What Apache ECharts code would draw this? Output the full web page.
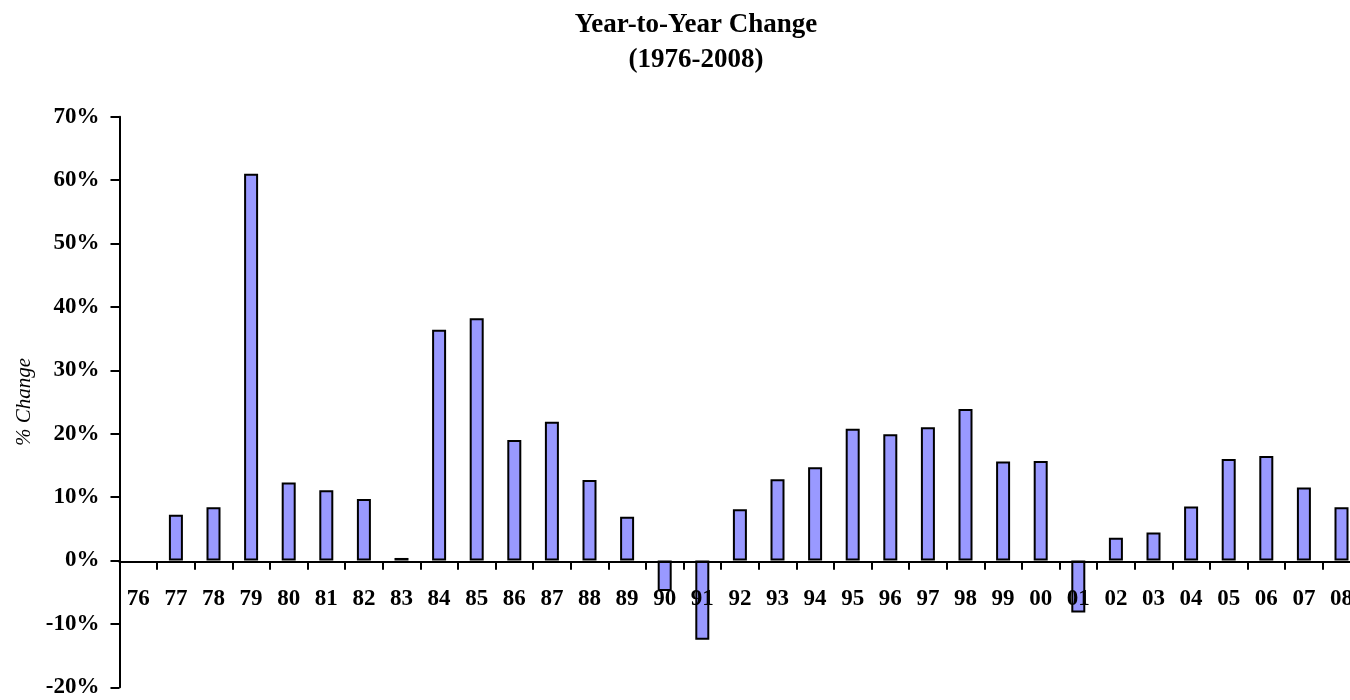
<!DOCTYPE html>
<html>
<head>
<meta charset="utf-8">
<title>Year-to-Year Change</title>
<script src="https://cdn.jsdelivr.net/npm/echarts@6/dist/echarts.min.js"></script>
<style>
  html, body { margin: 0; padding: 0; background: #fff; }
  #chart { width: 1350px; height: 700px; }
</style>
</head>
<body>
<div id="chart"></div>
<script>
// years shown on the category axis (1976-2008)
var years = ['76', '77', '78', '79', '80', '81', '82', '83', '84', '85', '86',
             '87', '88', '89', '90', '91', '92', '93', '94', '95', '96', '97',
             '98', '99', '00', '01', '02', '03', '04', '05', '06', '07', '08'];

// % change from previous year (no bar for 76)
var pctChange = [null, 7.2, 8.4, 61.0, 12.3, 11.1, 9.7, 0.4, 36.4, 38.2, 19.0,
                 21.9, 12.7, 6.9, -4.8, -12.5, 8.1, 12.8, 14.7, 20.8, 19.9, 21.0,
                 23.9, 15.6, 15.7, -8.2, 3.6, 4.4, 8.5, 16.0, 16.5, 11.5, 8.4];

var serif = 'Liberation Serif';

var option = {
    backgroundColor: '#fff',
    animation: false,
    title: {
        text: 'Year-to-Year Change\n(1976-2008)',
        left: 691,
        textAlign: 'center',
        top: 3,
        textStyle: {
            fontFamily: serif,
            fontWeight: 'bold',
            fontSize: 27,
            lineHeight: 35,
            color: '#000'
        }
    },
    grid: {
        left: 119.5,
        right: -10.3,
        top: 116.7,
        bottom: 12.7,
        outerBoundsMode: 'none'
    },
    xAxis: {
        type: 'category',
        data: years,
        z: 3,
        // category axis sits on the 0% line (70..-20 range, 0 is 7/9 down)
        offset: -125.6,
        axisLine: {
            onZero: false,
            lineStyle: { color: '#000', width: 2 }
        },
        axisTick: {
            show: true,
            length: 8,
            lineStyle: { color: '#000', width: 2 }
        },
        axisLabel: {
            interval: 0,
            margin: 26,
            fontFamily: serif,
            fontWeight: 'bold',
            fontSize: 23,
            color: '#000'
        }
    },
    yAxis: {
        type: 'value',
        min: -20,
        max: 70,
        interval: 10,
        name: '% Change',
        nameLocation: 'middle',
        nameGap: 85,
        nameTextStyle: {
            fontFamily: serif,
            fontStyle: 'italic',
            fontSize: 21,
            color: '#000'
        },
        splitLine: { show: false },
        axisLine: {
            show: true,
            lineStyle: { color: '#000', width: 2 }
        },
        axisTick: {
            show: true,
            length: 9,
            lineStyle: { color: '#000', width: 2 }
        },
        axisLabel: {
            margin: 20,
            formatter: '{value}%',
            fontFamily: serif,
            fontWeight: 'bold',
            fontSize: 23,
            color: '#000'
        }
    },
    series: [{
        name: '% Change',
        type: 'bar',
        data: pctChange,
        barWidth: 14,
        itemStyle: {
            color: '#9999FF',
            borderColor: '#000',
            borderWidth: 2
        }
    }]
};

var myChart = echarts.init(document.getElementById('chart'));
myChart.setOption(option);
</script>
</body>
</html>
